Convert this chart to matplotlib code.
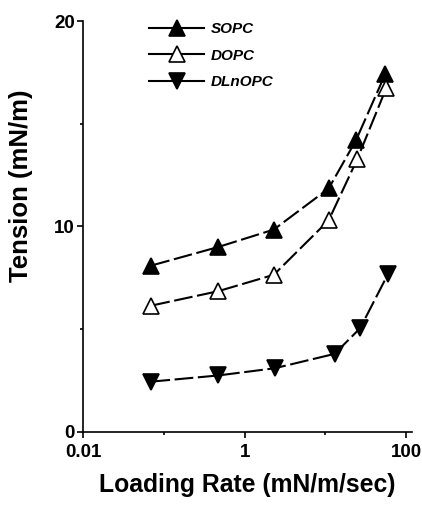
import matplotlib
matplotlib.use("Agg")
import matplotlib.pyplot as plt
from matplotlib.lines import Line2D

plt.rcParams['font.family'] = ['Liberation Sans', 'DejaVu Sans']
plt.rcParams['font.weight'] = 'bold'

# loading rate (mN/m/sec)
rate_sopc = [0.070, 0.47, 2.3, 11, 24, 55]
rate_dopc = [0.070, 0.47, 2.3, 11, 25, 57]
rate_dlnopc = [0.070, 0.47, 2.35, 13, 27, 60]

# tension (mN/m)
sopc = [8.1, 9.0, 9.85, 11.85, 14.2, 17.4]
dopc = [6.15, 6.85, 7.65, 10.3, 13.3, 16.75]
dlnopc = [2.45, 2.75, 3.1, 3.8, 5.05, 7.7]

names = ['SOPC', 'DOPC', 'DLnOPC']
markers = ['^', '^', 'v']
faces = ['black', 'white', 'black']

fig = plt.figure(figsize=(4.22, 5.05), dpi=100)
ax = fig.add_axes([0.197, 0.1446, 0.779, 0.8138])

series = [(rate_sopc, sopc), (rate_dopc, dopc), (rate_dlnopc, dlnopc)]
for (xs, ys), m, fc in zip(series, markers, faces):
    ax.plot(xs, ys, color='black', lw=1.5, dashes=(9, 2.2),
            marker=m, ms=11, mfc=fc, mec='black', mew=1.2)

ax.set_xscale('log')
ax.set_xlim(0.01, 118)
ax.set_ylim(0, 20)
ax.set_xticks([0.01, 1, 100])
ax.set_xticklabels(['0.01', '1', '100'])
ax.set_xticks([0.1, 10], minor=True)
ax.set_xticklabels([], minor=True)
ax.set_yticks([0, 10, 20])
ax.set_yticks([5, 15], minor=True)

for s in ['top', 'right']:
    ax.spines[s].set_visible(False)
for s in ['left', 'bottom']:
    ax.spines[s].set_linewidth(1.2)

ax.tick_params(which='major', length=4, width=1.2, labelsize=13.5, pad=2)
ax.tick_params(axis='x', which='major', pad=5)
ax.tick_params(which='minor', length=2.5, width=1.2)
for lab in ax.get_xticklabels() + ax.get_yticklabels():
    lab.set_fontweight('bold')

ax.set_xlabel('Loading Rate (mN/m/sec)', fontsize=17.8, fontweight='bold')
ax.set_ylabel('Tension (mN/m)', fontsize=18.5, fontweight='bold')
ax.xaxis.set_label_coords(0.5, -0.1)
ax.yaxis.set_label_coords(-0.152, 0.60)

handles = [Line2D([], [], color='black', lw=1.5, marker=m, ms=11,
                  mfc=fc, mec='black', mew=1.2)
           for m, fc in zip(markers, faces)]
leg = ax.legend(handles, names, loc='upper left', bbox_to_anchor=(0.16, 1.03),
                frameon=False, handlelength=3.6, handletextpad=0.4,
                labelspacing=0.8, prop={'size': 11, 'weight': 'bold',
                                        'style': 'italic'})

fig.savefig('out.png', dpi=100)
